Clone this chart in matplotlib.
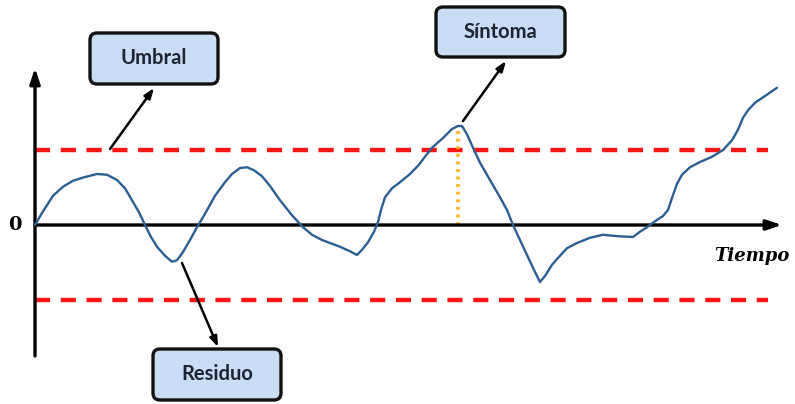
import matplotlib
matplotlib.use("Agg")
import matplotlib.pyplot as plt
from matplotlib.patches import FancyBboxPatch

# ---- data (time, residual in threshold units) ----
time = [0, 7, 18, 28, 38, 50, 62, 72, 82, 90, 97, 104, 110, 116, 122, 130, 137,
        142, 148, 155, 162, 170, 180, 190, 197, 205, 212, 219, 227, 235, 245, 257,
        268, 277, 287, 305, 315, 322, 327, 333, 339, 343, 346, 350, 357, 365, 375,
        383, 390, 397, 408, 417, 423, 427, 432, 438, 445, 455, 465, 472, 478, 485,
        492, 498, 505, 510, 517, 525, 532, 542, 555, 568, 583, 598, 605, 612, 620,
        628, 633, 637, 642, 647, 655, 665, 677, 688, 697, 703, 708, 713, 720, 730,
        742]
residual = [0.00, 0.16, 0.39, 0.51, 0.59, 0.64, 0.68, 0.67, 0.60, 0.49, 0.33, 0.17,
            0.00, -0.16, -0.29, -0.41, -0.49, -0.47, -0.36, -0.20, -0.03, 0.15, 0.39,
            0.57, 0.68, 0.76, 0.77, 0.73, 0.65, 0.52, 0.33, 0.13, -0.03, -0.13, -0.20,
            -0.29, -0.35, -0.40, -0.33, -0.23, -0.09, 0.04, 0.20, 0.37, 0.49, 0.57,
            0.68, 0.79, 0.91, 1.03, 1.16, 1.28, 1.32, 1.32, 1.21, 1.03, 0.83, 0.60,
            0.37, 0.20, 0.00, -0.20, -0.40, -0.57, -0.76, -0.68, -0.53, -0.41, -0.31,
            -0.24, -0.17, -0.13, -0.15, -0.16, -0.09, -0.03, 0.05, 0.12, 0.20, 0.36,
            0.55, 0.67, 0.77, 0.84, 0.91, 1.00, 1.13, 1.27, 1.43, 1.53, 1.63, 1.72,
            1.83]
threshold = 1.0
symptom_time = 423
symptom_value = 1.32
labels = ["Umbral", "Síntoma", "Residuo"]
zero_label = "0"
time_label = "Tiempo"

# ---- layout helpers (pixel -> data) ----
def X(px):
    return px - 35

def Y(py):
    return (225 - py) / 75.0

fig = plt.figure(figsize=(7.95, 4.04), dpi=100)
ax = fig.add_axes([0, 0, 1, 1])
ax.set_xlim(X(0), X(795))
ax.set_ylim(Y(404), Y(0))
ax.axis("off")
fig.patch.set_facecolor("white")

# threshold lines
for thr in (threshold, -threshold):
    ax.plot([X(35), X(768)], [thr, thr], color="#ff1515", lw=3.2,
            dashes=(3.4, 2.4), solid_capstyle="butt", dash_capstyle="butt", zorder=2)

# axes arrows
ax.annotate("", xy=(X(35), Y(68)), xytext=(X(35), Y(356)),
            arrowprops=dict(arrowstyle="-|>,head_length=0.9,head_width=0.3",
                            color="black", lw=2.4, shrinkA=0, shrinkB=0), zorder=3)
ax.annotate("", xy=(X(782), 0), xytext=(X(35), 0),
            arrowprops=dict(arrowstyle="-|>,head_length=0.9,head_width=0.3",
                            color="black", lw=2.4, shrinkA=0, shrinkB=0), zorder=3)

# symptom marker
ax.plot([symptom_time, symptom_time], [0, symptom_value], color="#ffb31a", lw=2.6,
        linestyle=(0, (0.8, 1.3)), zorder=2)

# residual curve
ax.plot(time, residual, color="#2c5f91", lw=1.7, zorder=4,
        solid_joinstyle="round", solid_capstyle="round")

# label boxes
boxes = [(90, 33, 128, 51), (436, 7, 129, 50), (153, 349, 128, 51)]
for (bx, by, bw, bh), lab in zip(boxes, labels):
    p = FancyBboxPatch((X(bx), Y(by + bh)), bw, bh / 75.0,
                       boxstyle="round,pad=0,rounding_size=7",
                       mutation_aspect=1 / 75.0,
                       facecolor="#c9def5", edgecolor="#111111", lw=2.4, zorder=5)
    ax.add_patch(p)
    ax.text(X(bx + bw / 2), Y(by + bh / 2), lab, ha="center", va="center",
            fontsize=14.5, fontweight="bold", family=["Lato", "DejaVu Sans"],
            color="#1c2433", zorder=6)

# pointer arrows
arrows = [((110, 149), (154, 88)), ((463, 121), (506, 61)), ((182, 263), (218, 347))]
for (x0, y0), (x1, y1) in arrows:
    ax.annotate("", xy=(X(x1), Y(y1)), xytext=(X(x0), Y(y0)),
                arrowprops=dict(arrowstyle="-|>,head_length=0.6,head_width=0.22",
                                color="black", lw=1.8, shrinkA=0, shrinkB=0), zorder=5)

# axis texts
ax.text(X(15), Y(225), zero_label, ha="center", va="center", fontsize=14,
        fontweight="bold", family="DejaVu Serif", color="black")
ax.text(X(752), Y(256), time_label, ha="center", va="center", fontsize=13,
        fontweight="bold", fontstyle="italic", family="DejaVu Serif", color="black")

fig.savefig("out.png", dpi=100, facecolor="white")
